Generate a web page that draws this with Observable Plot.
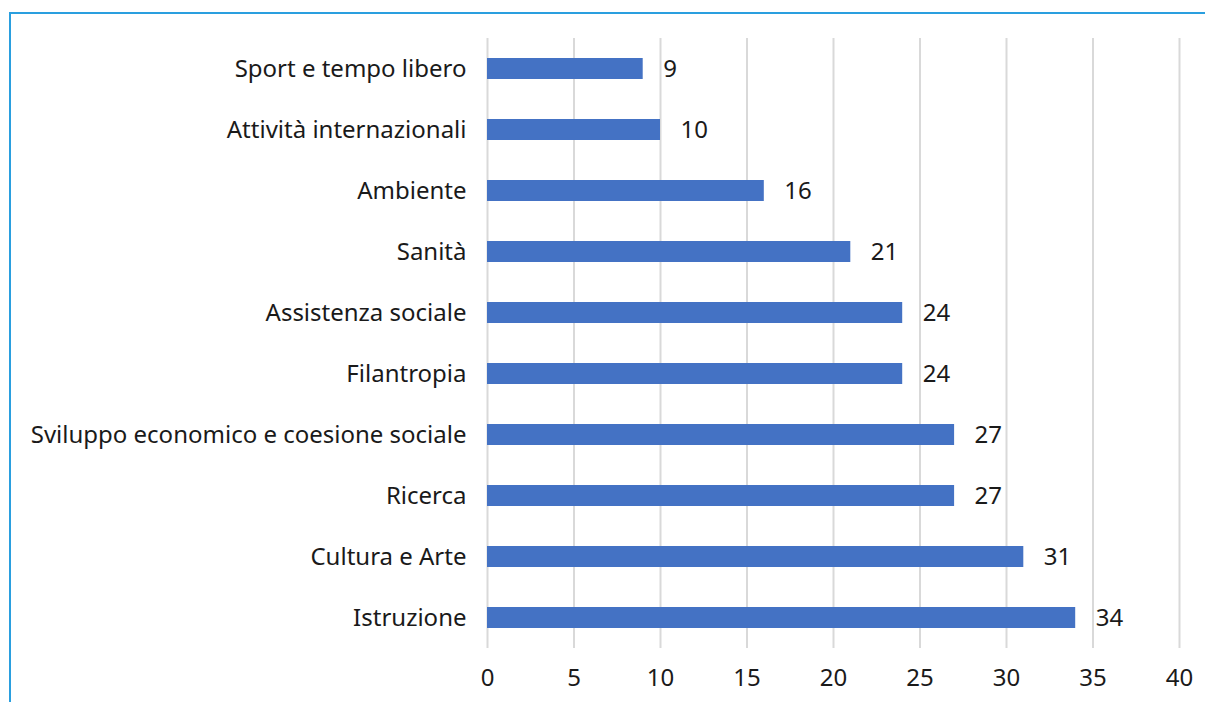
<!DOCTYPE html>
<html>
<head>
<meta charset="utf-8">
<script src="https://cdn.jsdelivr.net/npm/d3@7"></script>
<script src="https://cdn.jsdelivr.net/npm/@observablehq/plot@0.6"></script>
<style>
  html, body { margin: 0; padding: 0; background: #fff; }
  #wrap { position: relative; width: 1205px; height: 702px; overflow: hidden; }
  #frame { position: absolute; left: 9px; top: 12px; width: 1300px; height: 800px;
           border-top: 2px solid #2a9fdf; border-left: 2px solid #2a9fdf; pointer-events: none; }
  #chart { position: absolute; left: 0; top: 0; }
</style>
</head>
<body>
<div id="wrap"><div id="chart"></div><div id="frame"></div></div>
<script>
const categories = ["Sport e tempo libero", "Attività internazionali", "Ambiente", "Sanità",
  "Assistenza sociale", "Filantropia", "Sviluppo economico e coesione sociale", "Ricerca",
  "Cultura e Arte", "Istruzione"];
const values = [9, 10, 16, 21, 24, 24, 27, 27, 31, 34];
const xTicks = [0, 5, 10, 15, 20, 25, 30, 35, 40];

const data = categories.map((c, i) => ({category: c, value: values[i]}));
const font = "'Noto Sans', sans-serif";
const fs = 24;

const chart = Plot.plot({
  width: 1205,
  height: 702,
  marginLeft: 487,
  marginRight: 26,
  marginTop: 38,
  marginBottom: 54,
  style: {fontFamily: font, fontSize: fs + "px", color: "#1a1a1a", background: "transparent"},
  x: {domain: [0, 40], ticks: xTicks, label: null},
  y: {domain: categories, label: null, paddingInner: 0.655, paddingOuter: 0.3275},
  marks: [
    Plot.gridX(xTicks, {stroke: "#d9d9d9", strokeOpacity: 1, strokeWidth: 2}),
    Plot.barX(data, {y: "category", x: "value", fill: "#4472c4"}),
    Plot.text(data, {y: "category", x: "value", text: d => String(d.value), textAnchor: "start", dx: 20, fill: "#1a1a1a", fontSize: fs}),
    Plot.axisX({ticks: xTicks, tickSize: 0, tickPadding: 20, fontSize: fs, label: null}),
    Plot.axisY({tickSize: 0, tickPadding: 21, fontSize: fs, label: null})
  ]
});
document.getElementById("chart").appendChild(chart);
</script>
</body>
</html>
